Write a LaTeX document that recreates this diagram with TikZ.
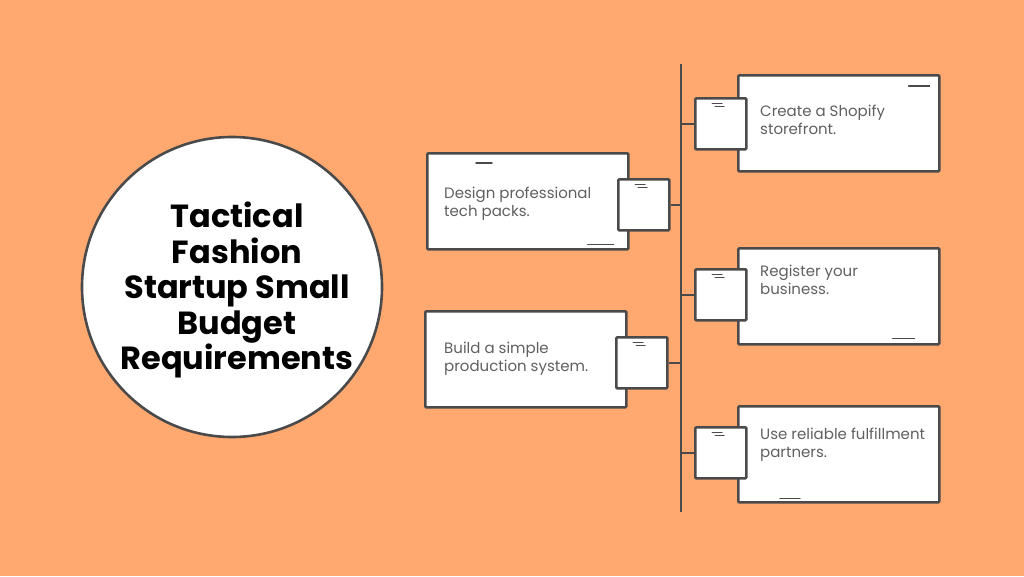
\documentclass[tikz,border=0pt]{standalone}
\usepackage{fontspec}
\setmainfont{Poppins}
\usetikzlibrary{positioning}
\definecolor{bgorange}{HTML}{FFA970}
\definecolor{inkgrey}{HTML}{4A4A4A}
\definecolor{txtgrey}{HTML}{606060}

\begin{document}
\begin{tikzpicture}[x=1pt, y=-1pt,
  card/.style={draw=inkgrey, fill=white, line width=2.6pt, rounded corners=1pt,
               minimum width=201pt, minimum height=96pt, anchor=north west},
  cardtext/.style={anchor=west, inner sep=0pt, align=left, text=txtgrey,
                   font=\fontsize{15}{18}\selectfont},
  tab/.style={draw=inkgrey, fill=white, line width=2.6pt, rounded corners=1pt,
              minimum size=51pt, anchor=north west, inner sep=0pt},
  link/.style={draw=inkgrey, line width=2.6pt},
  scratch/.style={draw=inkgrey, line width=1.4pt, line cap=round}
]
  %% Canvas
  \fill[bgorange] (0,0) rectangle (1024,576);
  \useasboundingbox (0,0) rectangle (1024,576);

  %% Title circle
  \node[circle, draw=inkgrey, fill=white, line width=2.6pt, minimum size=300pt,
        inner sep=0pt] (circ) at (232,287) {};
  \node[align=center, font=\fontsize{32}{35.5}\selectfont\bfseries] (title) at (237,290)
        {Tactical\\Fashion\\Startup Small\\Budget\\Requirements};

  %% Spine
  \coordinate (spinetop) at (681,64);
  \coordinate (spinebot) at (681,512);
  \draw[link] (spinetop) -- (spinebot);

  %% Left cards
  \node[card] (design) at (426,152) {};
  \node[tab] (designtab) at (617,178) {};
  \node[card] (build) at (424,310) {};
  \node[tab] (buildtab) at (615,336) {};

  %% Right cards
  \node[card] (shopify) at (737,74) {};
  \node[tab] (shopifytab) at (694,97) {};
  \node[card] (register) at (737,247) {};
  \node[tab] (registertab) at (694,268) {};
  \node[card] (fulfil) at (737,405) {};
  \node[tab] (fulfiltab) at (694,426) {};

  %% Card texts
  \node[cardtext] (designtext) at (444,204) {Design professional\\tech packs.};
  \node[cardtext] (buildtext) at (444,359) {Build a simple\\production system.};
  \node[cardtext] (shopifytext) at (760,120) {Create a Shopify\\storefront.};
  \node[cardtext] (registertext) at (760,280) {Register your\\business.};
  \node[cardtext] (fulfiltext) at (760,445) {Use reliable fulfillment\\partners.};

  %% Links to the spine
  \draw[link] (designtab.east) -- (designtab.east -| spinetop);
  \draw[link] (buildtab.east) -- (buildtab.east -| spinetop);
  \draw[link] (shopifytab.west) -- (shopifytab.west -| spinetop);
  \draw[link] (registertab.west) -- (registertab.west -| spinetop);
  \draw[link] (fulfiltab.west) -- (fulfiltab.west -| spinetop);

  %% Sketch marks
  \draw[scratch] ([xshift=50pt, yshift=-11pt]design.north west) -- ++(16,0);
  \draw[scratch] ([xshift=-42pt, yshift=6pt]design.south east) -- ++(26,0);
  \draw[scratch] ([xshift=-32pt, yshift=-12pt]shopify.north east) -- ++(21,0);
  \draw[scratch] ([xshift=-48pt, yshift=7pt]register.south east) -- ++(22,0);
  \draw[scratch] ([xshift=43pt, yshift=5pt]fulfil.south west) -- ++(20,0);
  \foreach \t in {designtab, buildtab, shopifytab, registertab, fulfiltab} {
    \draw[scratch, line width=1pt] ([xshift=18pt, yshift=-6pt]\t.north west) -- ++(10,0);
    \draw[scratch, line width=1pt] ([xshift=21pt, yshift=-9pt]\t.north west) -- ++(9,0);
  }
\end{tikzpicture}
\end{document}
